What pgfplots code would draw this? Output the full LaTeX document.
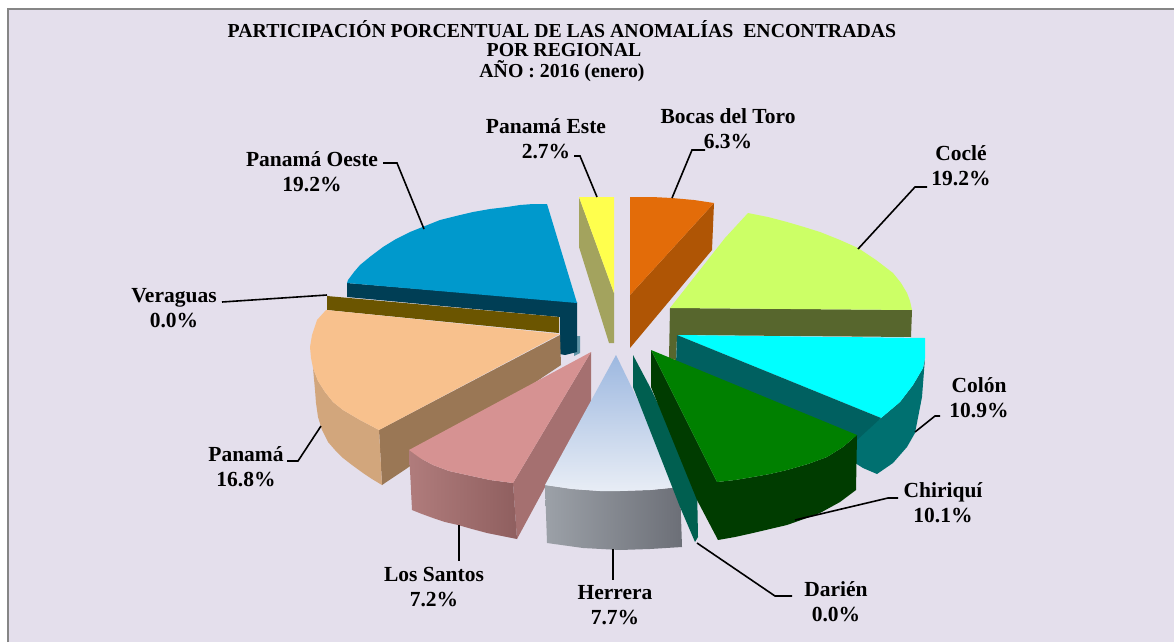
\documentclass[border=0pt]{standalone}
\usepackage{fontspec}
\setmainfont{Liberation Serif}
\usepackage{pgfplots}
\pgfplotsset{compat=1.18}
\definecolor{panel}{HTML}{E4DFEC}
\definecolor{frameg}{HTML}{868686}
\definecolor{oeste}{HTML}{0099CC}
\definecolor{oested}{HTML}{003E55}
\definecolor{oestee}{HTML}{5F94A6}
\definecolor{verag}{HTML}{6B5500}
\definecolor{panama}{HTML}{F8C18D}
\definecolor{panamas}{HTML}{D2A67C}
\definecolor{panamai}{HTML}{9A7755}
\definecolor{santos}{HTML}{D69292}
\definecolor{santosi}{HTML}{A57070}
\definecolor{santosa}{HTML}{B07C7C}
\definecolor{santosb}{HTML}{8F5F5F}
\definecolor{herrt}{HTML}{9DB8E0}
\definecolor{herrb}{HTML}{E8EDF5}
\definecolor{herra}{HTML}{9CA1A8}
\definecolor{herrc}{HTML}{6C6F77}
\definecolor{darien}{HTML}{005F50}
\definecolor{chiri}{HTML}{008000}
\definecolor{chirid}{HTML}{003C00}
\definecolor{colon}{HTML}{00FFFF}
\definecolor{coloni}{HTML}{006060}
\definecolor{colono}{HTML}{007070}
\definecolor{cocle}{HTML}{CCFF66}
\definecolor{cocled}{HTML}{57662D}
\definecolor{bocas}{HTML}{E36C09}
\definecolor{bocasd}{HTML}{AF5505}
\definecolor{este}{HTML}{FFFF4D}
\definecolor{ested}{HTML}{A3A35E}
\tikzset{
  lab/.style={font=\bfseries\fontsize{21.5}{25}\selectfont, align=center, inner sep=0pt},
  tit/.style={font=\bfseries\fontsize{19.8}{21}\selectfont, align=center, inner sep=0pt},
  lead/.style={black, line width=1.6pt},
}
\begin{document}
\begin{tikzpicture}
\begin{axis}[
  scale only axis, width=1174pt, height=642pt,
  xmin=0, xmax=1174, ymin=0, ymax=642, y dir=reverse,
  hide axis,
]
% white page round the panel, keeps the full picture size
\addplot[fill=white, draw=none] coordinates {(0,0) (1174,0) (1174,642) (0,642)} --cycle;
% panel
\addplot[fill=panel, draw=none] coordinates {(8,9) (1174,9) (1174,642) (8,642)} --cycle;
\addplot[draw=frameg, line width=2pt] coordinates {(8,642) (8,9) (1174,9)};

% Panama Este
\addplot[fill=ested, draw=none] coordinates {(579,197) (614,293) (614,343) (609,343) (579,247)} --cycle;
\addplot[fill=este, draw=none] coordinates {(579,197) (614,197) (614,293)} --cycle;

% Bocas del Toro
\addplot[fill=bocasd, draw=none] coordinates {(714,203) (712,250) (630,348) (630,295)} --cycle;
\addplot[fill=bocas, draw=none] coordinates {(630,197) (652,197) (672,198) (694,200) (714,203) (630,295)} --cycle;

% Panama Oeste
\addplot[fill=oestee, draw=none] coordinates {(574,336) (580,336) (580,353) (574,356)} --cycle;
\addplot[fill=oested, draw=none] coordinates {(347,283) (577,302) (577,352) (565,355) (560,354) (560,317) (347,297)} --cycle;
\addplot[fill=oeste, draw=none] coordinates {(347,283) (348,280) (354,272) (360,265) (371,256) (383,247) (396,239) (410,232) (425,226) (440,220) (456,216) (473,212) (490,209) (507,207) (520,205) (533,204) (547,204) (577,303)} --cycle;

% Veraguas
\addplot[fill=verag, draw=none] coordinates {(327,296) (559,317) (559,333) (327,310)} --cycle;

% Panama
\addplot[fill=panamai, draw=none] coordinates {(379,430) (560,335) (561,365) (382,485)} --cycle;
\addplot[fill=panamas, draw=none] coordinates {(313,368) (318,381) (325,392) (333,402) (343,410) (360,420) (379,430) (382,485) (372,479) (363,473) (352,465) (343,458) (335,450) (328,442) (322,430) (318,417) (316,403) (315,390)} --cycle;
\addplot[fill=panama, draw=none] coordinates {(326,310) (560,334) (379,430) (360,420) (343,410) (333,402) (325,392) (318,381) (313,368) (311,358) (310,347) (312,335) (317,320)} --cycle;

% Los Santos
\addplot[fill=santosi, draw=none] coordinates {(513,483) (591,352) (591,402) (517,539)} --cycle;
\addplot[left color=santosa, right color=santosb, draw=none] coordinates {(409,450) (420,458) (433,465) (449,471) (467,475) (490,480) (513,483) (517,539) (502,536) (487,533) (472,529) (458,525) (445,522) (433,518) (422,514) (412,510)} --cycle;
\addplot[fill=santos, draw=none] coordinates {(591,352) (513,483) (490,480) (467,475) (449,471) (433,465) (420,458) (409,450)} --cycle;

% Colon
\addplot[fill=colono, draw=none] coordinates {(881,418) (900,402) (913,385) (923,368) (925,358) (922,397) (915,433) (907,447) (893,463) (877,474) (863,468) (855,463) (857,435)} --cycle;

% Cocle
\addplot[fill=cocled, draw=none] coordinates {(670,308) (912,310) (911,337) (677,335) (676,360) (669,358)} --cycle;
\addplot[fill=cocle, draw=none] coordinates {(670,308) (725,238) (748,213) (768,217) (787,222) (804,227) (820,232) (840,240) (858,248) (876,260) (893,273) (901,283) (907,293) (910,301) (912,310)} --cycle;
\addplot[fill=colon, draw=none] coordinates {(677,335) (925,338) (925,358) (923,368) (913,385) (900,402) (881,418)} --cycle;
\addplot[fill=coloni, draw=none] coordinates {(677,335) (881,418) (857,440) (676,365)} --cycle;

% Herrera
\addplot[left color=herra, right color=herrc, draw=none] coordinates {(545,485) (572,489) (600,491) (620,491) (650,490) (680,487) (682,547) (650,549) (620,550) (583,548) (547,543)} --cycle;
\addplot[top color=herrt, bottom color=herrb, draw=none] coordinates {(616,355) (680,487) (650,490) (620,491) (600,491) (572,489) (545,485)} --cycle;

% Darien
\addplot[fill=darien, draw=none] coordinates {(633,355) (650,387) (697,485) (698,537) (695,542) (680,507) (633,387)} --cycle;

% Chiriqui
\addplot[fill=chirid, draw=none] coordinates {(651,350) (717,482) (735,480) (753,477) (770,474) (787,470) (808,464) (827,457) (843,447) (857,435) (856,490) (840,502) (820,513) (804,519) (787,525) (770,529) (753,533) (735,537) (718,540) (697,500) (651,387)} --cycle;
\addplot[fill=chiri, draw=none] coordinates {(651,350) (857,435) (843,447) (827,457) (808,464) (787,470) (770,474) (753,477) (735,480) (717,482)} --cycle;

% leaders
\addplot[lead] coordinates {(574,156) (580,156) (597,197)};
\addplot[lead] coordinates {(705,150) (692,150) (672,198)};
\addplot[lead] coordinates {(927,187) (915,187) (858,249)};
\addplot[lead] coordinates {(383,163) (397,163) (424,229)};
\addplot[lead] coordinates {(222,302) (327,295)};
\addplot[lead] coordinates {(287,461) (298,461) (321,426)};
\addplot[lead] coordinates {(459,525) (459,561)};
\addplot[lead] coordinates {(613,549) (613,580)};
\addplot[lead] coordinates {(697,543) (775,596) (792,596)};
\addplot[lead] coordinates {(795,520) (888,498) (898,498)};
\addplot[lead] coordinates {(915,432) (935,416) (940,416)};

% title
\node[tit] at (axis cs:562,29) {PARTICIPACIÓN PORCENTUAL DE LAS ANOMALÍAS\ \ ENCONTRADAS};
\node[tit] at (axis cs:564,50) {POR REGIONAL};
\node[tit] at (axis cs:562,71) {AÑO : 2016 (enero)};

% labels
\node[lab] at (axis cs:546,139) {Panamá Este\\2.7\%};
\node[lab] at (axis cs:728,129) {Bocas del Toro\\6.3\%};
\node[lab] at (axis cs:961,166) {Coclé\\19.2\%};
\node[lab] at (axis cs:312,172) {Panamá Oeste\\19.2\%};
\node[lab] at (axis cs:174,308) {Veraguas\\0.0\%};
\node[lab] at (axis cs:246,467) {Panamá\\16.8\%};
\node[lab] at (axis cs:434,587) {Los Santos\\7.2\%};
\node[lab] at (axis cs:615,605) {Herrera\\7.7\%};
\node[lab] at (axis cs:836,602) {Darién\\0.0\%};
\node[lab] at (axis cs:943,503) {Chiriquí\\10.1\%};
\node[lab] at (axis cs:979,398) {Colón\\10.9\%};
\end{axis}
\end{tikzpicture}
\end{document}
